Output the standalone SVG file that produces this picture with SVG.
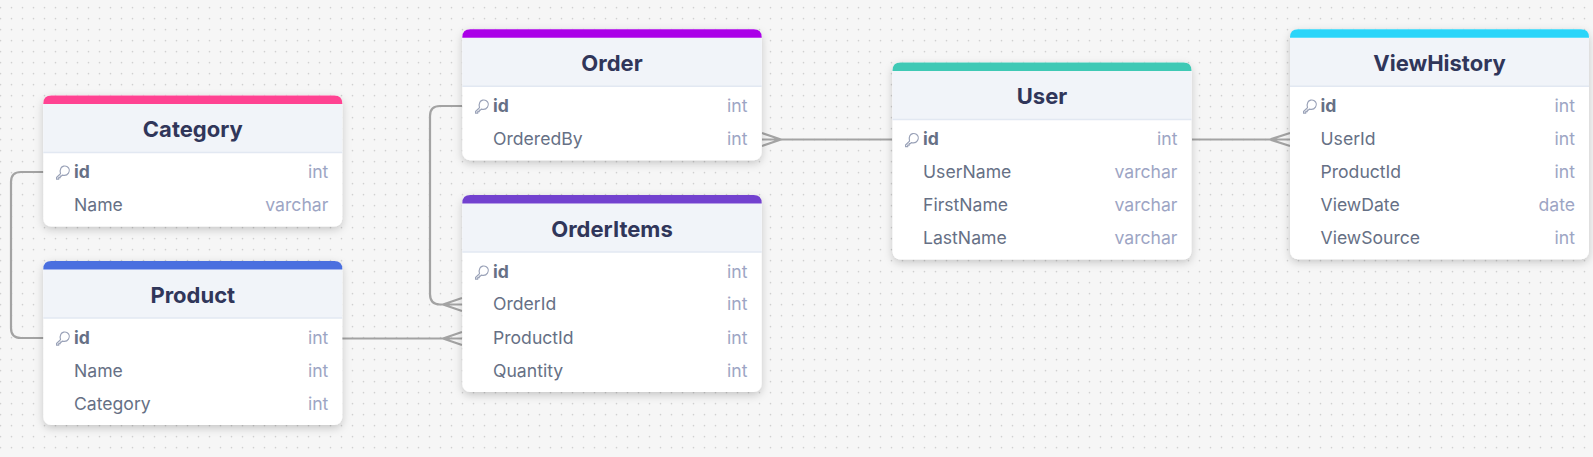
<svg xmlns="http://www.w3.org/2000/svg" width="1593" height="457" viewBox="0 0 1593 457">
<style>
text{font-family:Inter,"Noto Sans","Liberation Sans",sans-serif}
.title{font-size:22px;font-weight:700;fill:#30365a;text-anchor:middle}
.name{font-size:17.6px;fill:#667085}
.pk{font-size:17.6px;font-weight:700;fill:#667085}
.type{font-size:17.6px;fill:#9da5c4;text-anchor:end}
.card{fill:#fff;filter:url(#sh)}
.head{fill:#f1f4f9}
.div{stroke:#e2e8f2;stroke-width:1.5}
.conn path{fill:none;stroke:#a3a3a3;stroke-width:2.2}
</style>
<defs>
<pattern id="dots" width="11" height="11" patternUnits="userSpaceOnUse" x="-5" y="2.2">
<circle cx="5.500" cy="5.500" r="0.800" fill="#c8c8c8"/>
</pattern>
<filter id="sh" x="-10%" y="-10%" width="120%" height="125%">
<feDropShadow dx="0" dy="3" stdDeviation="4" flood-color="#000" flood-opacity="0.2"/>
</filter>
<symbol id="key" width="15" height="15" viewBox="0 0 14 14" overflow="visible">
<path d="M4.700 8 1 11.700 1 13.200 3 13.200 3 11.800 4.400 11.800 4.400 10.400 5.500 10.400 6.300 9.400C8.800 10.200 11 9.300 12.100 7.600 13.500 5.300 12.800 2.800 11 1.600 8.900.3 6.100 1 5 3 4.200 4.600 4.100 6.300 4.700 8Z" fill="none" stroke="#9aa2b8" stroke-width="1.100" stroke-linejoin="round"/>
</symbol>
</defs>
<rect width="1593" height="457" fill="#f6f6f6"/>
<rect width="1593" height="457" fill="url(#dots)"/>
<g id="connectors" class="conn">
<path d="M43.500 172H21Q11 172 11 182V328Q11 338 21 338H43.500"/>
<path d="M342 338.500H462M443 338.500 462 332M443 338.500 462 345"/>
<path d="M462 106H440Q430 106 430 116V294Q430 304.500 440 304.500H462M443 304.500 462 298M443 304.500 462 311"/>
<path d="M762 139.500H892M781 139.500 762 133M781 139.500 762 146"/>
<path d="M1192 139.500H1290M1270 139.500 1290 133M1270 139.500 1290 146"/>
</g>
<g id="category">
<rect class="card" x="43.300" y="95.500" width="299" height="131" rx="8"/>
<path class="head" d="M43.300 104H342.300V152.500H43.300Z"/>
<path fill="#ff4392" d="M43.300 104V103.500Q43.300 95.500 51.300 95.500H334.300Q342.300 95.500 342.300 103.500V104Z"/>
<path class="div" d="M43.300 152.500H342.300"/>
<text class="title" x="192.800" y="137">Category</text>
<use href="#key" x="55.500" y="165"/>
<text class="pk" x="74" y="178">id</text><text class="type" x="328.300" y="178">int</text>
<text class="name" x="74" y="211">Name</text><text class="type" x="328.300" y="211">varchar</text>
</g>
<g id="product">
<rect class="card" x="43.300" y="261" width="299" height="164" rx="8"/>
<path class="head" d="M43.300 269.500H342.300V318H43.300Z"/>
<path fill="#4a6fdf" d="M43.300 269.500V269Q43.300 261 51.300 261H334.300Q342.300 261 342.300 269V269.500Z"/>
<path class="div" d="M43.300 318H342.300"/>
<text class="title" x="192.800" y="302.500">Product</text>
<use href="#key" x="55.500" y="331"/>
<text class="pk" x="74" y="344">id</text><text class="type" x="328.300" y="344">int</text>
<text class="name" x="74" y="377">Name</text><text class="type" x="328.300" y="377">int</text>
<text class="name" x="74" y="410">Category</text><text class="type" x="328.300" y="410">int</text>
</g>
<g id="order">
<rect class="card" x="462.300" y="29.300" width="299.400" height="131" rx="8"/>
<path class="head" d="M462.300 37.800H761.700V86.300H462.300Z"/>
<path fill="#aa00e8" d="M462.300 37.800V37.300Q462.300 29.300 470.300 29.300H753.700Q761.700 29.300 761.700 37.300V37.800Z"/>
<path class="div" d="M462.300 86.300H761.700"/>
<text class="title" x="612" y="71">Order</text>
<use href="#key" x="474.500" y="99"/>
<text class="pk" x="493" y="112">id</text><text class="type" x="747.500" y="112">int</text>
<text class="name" x="493" y="145">OrderedBy</text><text class="type" x="747.500" y="145">int</text>
</g>
<g id="orderitems">
<rect class="card" x="462.300" y="195" width="299.400" height="197" rx="8"/>
<path class="head" d="M462.300 203.500H761.700V252H462.300Z"/>
<path fill="#7241cf" d="M462.300 203.500V203Q462.300 195 470.300 195H753.700Q761.700 195 761.700 203V203.500Z"/>
<path class="div" d="M462.300 252H761.700"/>
<text class="title" x="612" y="236.500">OrderItems</text>
<use href="#key" x="474.500" y="265"/>
<text class="pk" x="493" y="278">id</text><text class="type" x="747.500" y="278">int</text>
<text class="name" x="493" y="310">OrderId</text><text class="type" x="747.500" y="310">int</text>
<text class="name" x="493" y="344">ProductId</text><text class="type" x="747.500" y="344">int</text>
<text class="name" x="493" y="377">Quantity</text><text class="type" x="747.500" y="377">int</text>
</g>
<g id="user">
<rect class="card" x="892.500" y="62.500" width="299" height="197" rx="8"/>
<path class="head" d="M892.500 71H1191.500V119.500H892.500Z"/>
<path fill="#3fc9b5" d="M892.500 71V70.500Q892.500 62.500 900.500 62.500H1183.500Q1191.500 62.500 1191.500 70.500V71Z"/>
<path class="div" d="M892.500 119.500H1191.500"/>
<text class="title" x="1042" y="104">User</text>
<use href="#key" x="904.500" y="132.500"/>
<text class="pk" x="923" y="145">id</text><text class="type" x="1177.500" y="145">int</text>
<text class="name" x="923" y="178">UserName</text><text class="type" x="1177.500" y="178">varchar</text>
<text class="name" x="923" y="211">FirstName</text><text class="type" x="1177.500" y="211">varchar</text>
<text class="name" x="923" y="244">LastName</text><text class="type" x="1177.500" y="244">varchar</text>
</g>
<g id="viewhistory">
<rect class="card" x="1290" y="29.300" width="299" height="230" rx="8"/>
<path class="head" d="M1290 37.800H1589V86.300H1290Z"/>
<path fill="#2ad5f9" d="M1290 37.800V37.300Q1290 29.300 1298 29.300H1581Q1589 29.300 1589 37.300V37.800Z"/>
<path class="div" d="M1290 86.300H1589"/>
<text class="title" x="1439.500" y="71">ViewHistory</text>
<use href="#key" x="1302.500" y="99"/>
<text class="pk" x="1320.500" y="112">id</text><text class="type" x="1575" y="112">int</text>
<text class="name" x="1320.500" y="145">UserId</text><text class="type" x="1575" y="145">int</text>
<text class="name" x="1320.500" y="178">ProductId</text><text class="type" x="1575" y="178">int</text>
<text class="name" x="1320.500" y="211">ViewDate</text><text class="type" x="1575" y="211">date</text>
<text class="name" x="1320.500" y="244">ViewSource</text><text class="type" x="1575" y="244">int</text>
</g>
</svg>
